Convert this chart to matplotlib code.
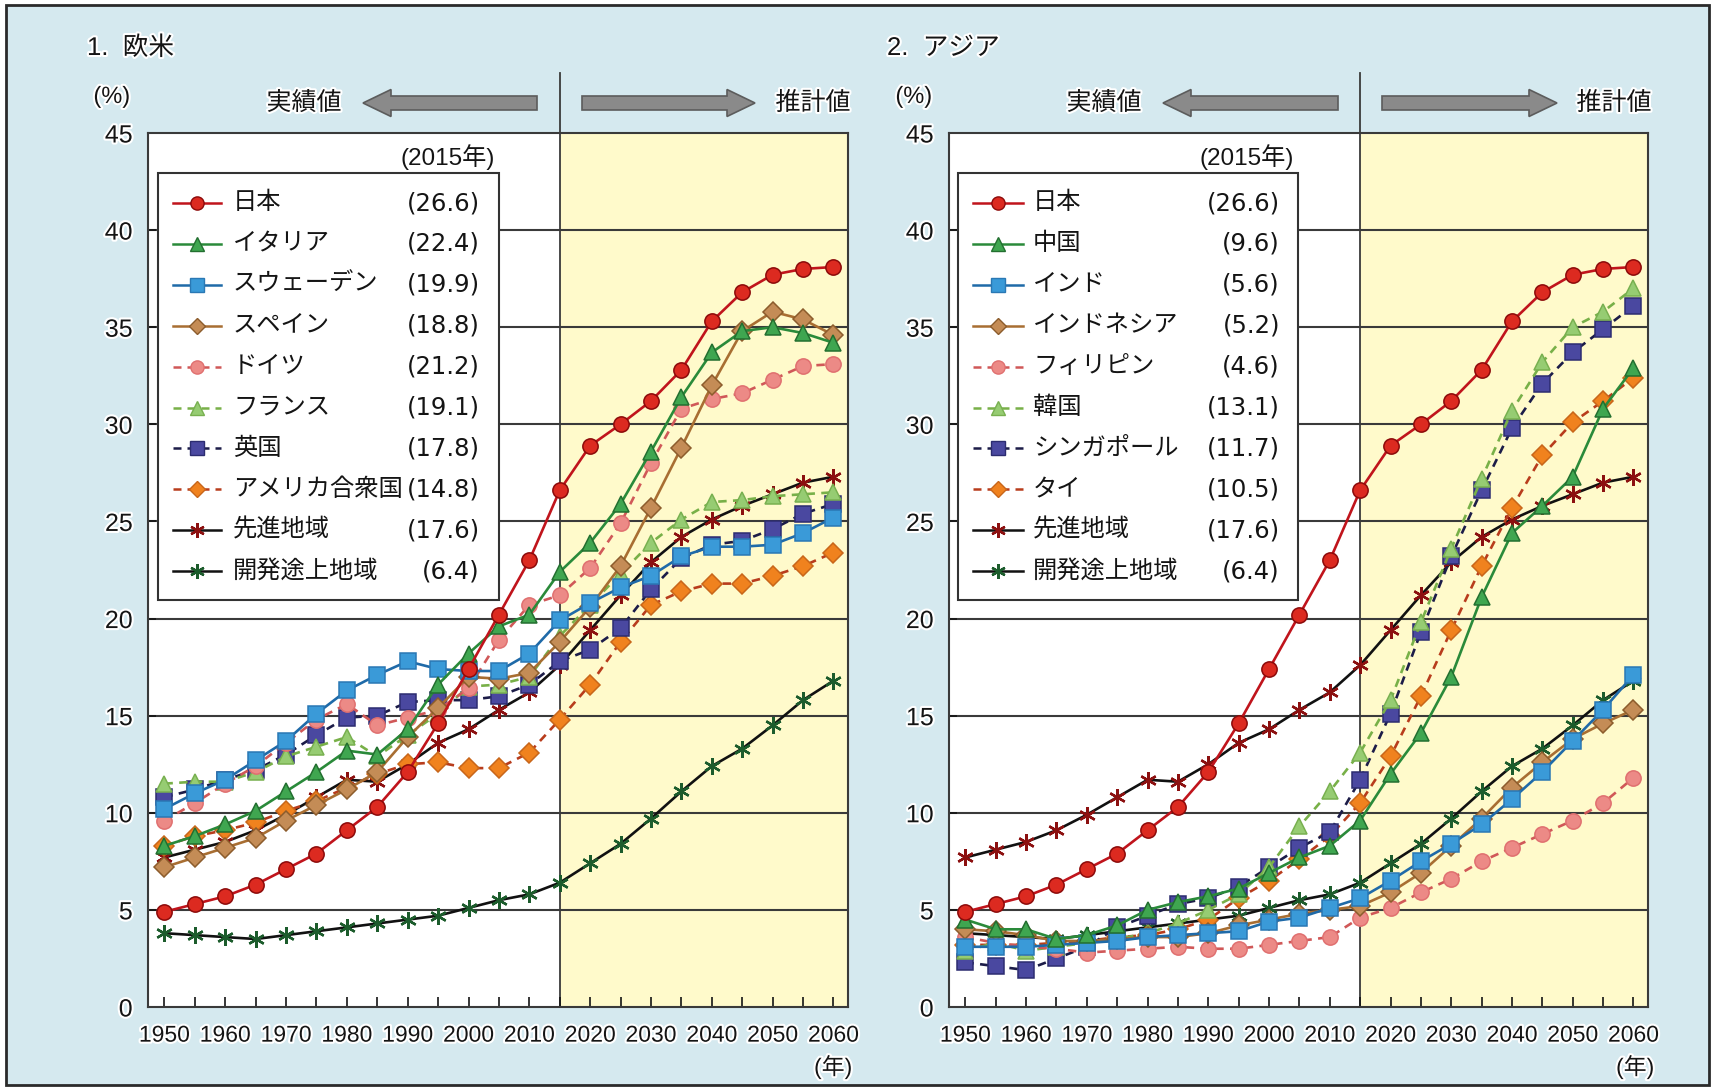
import matplotlib
matplotlib.use('Agg')
import matplotlib.pyplot as plt
from matplotlib.lines import Line2D
from matplotlib.patches import Rectangle, Polygon
import matplotlib.patheffects as pe

plt.rcParams['font.family'] = ['Liberation Sans', 'Noto Sans CJK JP']

W, H = 1711, 1088

years = [1950, 1955, 1960, 1965, 1970, 1975, 1980, 1985, 1990, 1995, 2000, 2005,
         2010, 2015, 2020, 2025, 2030, 2035, 2040, 2045, 2050, 2055, 2060]
xtick_years = [1950, 1960, 1970, 1980, 1990, 2000, 2010, 2020, 2030, 2040, 2050, 2060]
ytick_vals = [0, 5, 10, 15, 20, 25, 30, 35, 40, 45]

# shared series
japan = [4.9, 5.3, 5.7, 6.3, 7.1, 7.9, 9.1, 10.3, 12.1, 14.6, 17.4, 20.2,
         23.0, 26.6, 28.9, 30.0, 31.2, 32.8, 35.3, 36.8, 37.7, 38.0, 38.1]
developed = [7.7, 8.1, 8.5, 9.1, 9.9, 10.8, 11.7, 11.6, 12.5, 13.6, 14.3, 15.3,
             16.2, 17.6, 19.4, 21.2, 22.9, 24.2, 25.1, 25.8, 26.4, 27.0, 27.3]
developing = [3.8, 3.7, 3.6, 3.5, 3.7, 3.9, 4.1, 4.3, 4.5, 4.7, 5.1, 5.5,
              5.8, 6.4, 7.4, 8.4, 9.7, 11.1, 12.4, 13.3, 14.5, 15.8, 16.8]

# 1. Europe / America
italy = [8.3, 8.8, 9.4, 10.1, 11.1, 12.1, 13.2, 13.0, 14.3, 16.6, 18.2, 19.6,
         20.2, 22.4, 23.9, 25.9, 28.6, 31.4, 33.7, 34.8, 35.0, 34.7, 34.2]
sweden = [10.2, 11.0, 11.7, 12.7, 13.7, 15.1, 16.3, 17.1, 17.8, 17.4, 17.3, 17.3,
          18.2, 19.9, 20.8, 21.6, 22.2, 23.2, 23.7, 23.7, 23.8, 24.4, 25.2]
spain = [7.2, 7.7, 8.2, 8.7, 9.6, 10.4, 11.2, 12.1, 13.9, 15.4, 17.0, 16.9,
         17.2, 18.8, 20.6, 22.7, 25.7, 28.8, 32.0, 34.8, 35.8, 35.4, 34.6]
germany = [9.6, 10.5, 11.5, 12.4, 13.6, 14.8, 15.6, 14.5, 14.9, 15.3, 16.4, 18.9,
           20.7, 21.2, 22.6, 24.9, 28.0, 30.8, 31.3, 31.6, 32.3, 33.0, 33.1]
france = [11.5, 11.6, 11.6, 12.1, 12.9, 13.4, 13.9, 12.9, 14.0, 15.1, 16.5, 16.6,
          17.0, 19.1, 20.7, 22.3, 23.9, 25.1, 26.0, 26.1, 26.3, 26.4, 26.5]
uk = [10.8, 11.2, 11.7, 12.2, 13.0, 14.0, 14.9, 15.0, 15.7, 15.8, 15.8, 16.0,
      16.6, 17.8, 18.4, 19.5, 21.5, 23.1, 23.8, 24.0, 24.6, 25.4, 25.9]
usa = [8.3, 8.8, 9.1, 9.5, 10.1, 10.6, 11.3, 12.0, 12.5, 12.6, 12.3, 12.3,
       13.1, 14.8, 16.6, 18.8, 20.7, 21.4, 21.8, 21.8, 22.2, 22.7, 23.4]

# 2. Asia
china = [4.5, 4.0, 4.0, 3.5, 3.7, 4.2, 5.0, 5.4, 5.7, 6.1, 6.9, 7.7,
         8.3, 9.6, 12.0, 14.1, 17.0, 21.1, 24.4, 25.8, 27.3, 30.8, 32.9]
india = [3.1, 3.1, 3.1, 3.2, 3.3, 3.4, 3.6, 3.7, 3.8, 3.9, 4.4, 4.6,
         5.1, 5.6, 6.5, 7.5, 8.4, 9.4, 10.7, 12.1, 13.7, 15.3, 17.1]
indonesia = [4.0, 3.9, 3.7, 3.4, 3.4, 3.5, 3.6, 3.6, 3.8, 4.2, 4.5, 4.8,
             5.0, 5.2, 5.9, 6.9, 8.3, 9.7, 11.3, 12.6, 13.8, 14.6, 15.3]
philippines = [3.6, 3.3, 3.1, 3.0, 2.8, 2.9, 3.0, 3.1, 3.0, 3.0, 3.2, 3.4,
               3.6, 4.6, 5.1, 5.9, 6.6, 7.5, 8.2, 8.9, 9.6, 10.5, 11.8]
korea = [2.9, 3.3, 2.9, 3.1, 3.3, 3.5, 3.8, 4.3, 5.0, 5.8, 7.2, 9.3,
         11.1, 13.1, 15.8, 19.8, 23.6, 27.2, 30.7, 33.2, 35.0, 35.8, 37.0]
singapore = [2.3, 2.1, 1.9, 2.5, 3.1, 4.1, 4.7, 5.3, 5.6, 6.2, 7.2, 8.2,
             9.0, 11.7, 15.1, 19.3, 23.2, 26.6, 29.8, 32.1, 33.7, 34.9, 36.1]
thailand = [3.2, 3.2, 3.2, 3.3, 3.4, 3.6, 3.7, 4.0, 4.5, 5.6, 6.5, 7.6,
            8.8, 10.5, 12.9, 16.0, 19.4, 22.7, 25.7, 28.4, 30.1, 31.2, 32.4]

names_west = ['日本', 'イタリア', 'スウェーデン', 'スペイン', 'ドイツ', 'フランス',
              '英国', 'アメリカ合衆国', '先進地域', '開発途上地域']
vals_west = ['(26.6)', '(22.4)', '(19.9)', '(18.8)', '(21.2)', '(19.1)',
             '(17.8)', '(14.8)', '(17.6)', '(6.4)']
names_asia = ['日本', '中国', 'インド', 'インドネシア', 'フィリピン', '韓国',
              'シンガポール', 'タイ', '先進地域', '開発途上地域']
vals_asia = ['(26.6)', '(9.6)', '(5.6)', '(5.2)', '(4.6)', '(13.1)',
             '(11.7)', '(10.5)', '(17.6)', '(6.4)']

DASH = (0, (3.2, 2.4))
STYLES = [
    dict(color='#c0141c', ls='-', marker='o', mfc='#dc2a20', mec='#8c0a0a', ms=11),
    dict(color='#2a8a3a', ls='-', marker='^', mfc='#3fa650', mec='#236f30', ms=12),
    dict(color='#1f6aa8', ls='-', marker='s', mfc='#3a9ad8', mec='#2a78b4', ms=11),
    dict(color='#a86e32', ls='-', marker='D', mfc='#c48c56', mec='#8c5c2c', ms=10),
    dict(color='#d05858', ls=DASH, marker='o', mfc='#ec8a86', mec='#e07070', ms=11),
    dict(color='#78b048', ls=DASH, marker='^', mfc='#96cc72', mec='#78b050', ms=12),
    dict(color='#1c1c48', ls=DASH, marker='s', mfc='#4a48a0', mec='#2c2c70', ms=11),
    dict(color='#b83c1c', ls=DASH, marker='D', mfc='#f0821e', mec='#c8661a', ms=10),
    dict(color='#111111', ls='-', marker=(6, 2, 0), mfc='none', mec='#8c1010', ms=12, mew=1.7),
    dict(color='#111111', ls='-', marker=(6, 2, 0), mfc='none', mec='#1c5c2c', ms=12, mew=1.7),
]

BG = '#d5e9ef'
YELLOW = '#fffacb'
GRID = '#3a3a3a'
TXT = '#141414'
HALO = [pe.withStroke(linewidth=3, foreground='white')]


def fx(x):
    return x / W


def fy(y):
    return 1 - y / H


def arrow(fig, x_tip, x_tail, y):
    d = 1 if x_tail > x_tip else -1
    hl, hh, sh = 28, 13.5, 7
    pts = [(x_tip, y), (x_tip + d * hl, y - hh), (x_tip + d * hl, y - sh),
           (x_tail, y - sh), (x_tail, y + sh), (x_tip + d * hl, y + sh),
           (x_tip + d * hl, y + hh)]
    fig.add_artist(Polygon([(fx(a), fy(b)) for a, b in pts], closed=True,
                           transform=fig.transFigure, facecolor='#8a8a8a',
                           edgecolor='#5c5c5c', lw=1.2))


def legend(fig, names, vals, box, xline, xtext, xval):
    x0, y0, x1, y1 = box
    fig.add_artist(Rectangle((fx(x0), fy(y1)), fx(x1) - fx(x0), fy(y0) - fy(y1),
                             transform=fig.transFigure, facecolor='white',
                             edgecolor='#333333', lw=1.5, zorder=5))
    for i, (nm, v) in enumerate(zip(names, vals)):
        st = STYLES[i]
        y = 203 + i * 40.9
        fig.add_artist(Line2D([fx(xline[0]), fx(xline[1])], [fy(y), fy(y)],
                              transform=fig.transFigure, color=st['color'],
                              ls=st['ls'], lw=1.8, zorder=6))
        fig.add_artist(Line2D([fx((xline[0] + xline[1]) / 2)], [fy(y)],
                              transform=fig.transFigure, color=st['color'],
                              ls='none', marker=st['marker'], mfc=st['mfc'],
                              mec=st['mec'], ms=st['ms'] - 1.5,
                              mew=st.get('mew', 1.0), zorder=7))
        fig.text(fx(xtext), fy(y), nm, fontsize=17.5, color=TXT,
                 ha='left', va='center', zorder=7)
        fig.text(fx(xval), fy(y), v, fontsize=17.5, color=TXT,
                 family=['DejaVu Sans'], ha='right', va='center', zorder=7)


def panel(fig, rect, series, title, tx, names, vals, box, xline, xtext, xval,
          yr_x, heads):
    ax = fig.add_axes(rect)
    ax.set_facecolor('white')
    ax.set_xlim(1947.3, 2062.4)
    ax.set_ylim(0, 45)
    ax.axvspan(2015, 2062.4, color=YELLOW, zorder=0.2, lw=0)
    for v in ytick_vals[1:-1]:
        ax.axhline(v, color=GRID, lw=1.5, zorder=0.5)
    ax.axvline(2015, ymin=0, ymax=48.1 / 45, color=GRID, lw=1.3,
               clip_on=False, zorder=0.6)
    for s, st in reversed(list(zip(series, STYLES))):
        ax.plot(years, s, color=st['color'], ls=st['ls'], lw=1.9,
                marker=st['marker'], mfc=st['mfc'], mec=st['mec'],
                ms=st['ms'], mew=st.get('mew', 1.1), zorder=3)
    for sp in ax.spines.values():
        sp.set_color('#3a3a3a')
        sp.set_linewidth(1.5)
    ax.set_xticks(xtick_years)
    ax.set_xticks(years, minor=True)
    ax.set_yticks(ytick_vals)
    ax.tick_params(axis='x', which='both', direction='in', length=7, width=1.2,
                   labelsize=16.5, pad=12, colors=TXT)
    ax.tick_params(axis='y', direction='in', length=6, width=1.2,
                   labelsize=18, pad=11, colors=TXT)
    for lab in ax.get_xticklabels() + ax.get_yticklabels():
        lab.set_path_effects(HALO)

    fig.text(fx(tx), fy(48), title, fontsize=18.5, color=TXT, ha='left',
             va='center', path_effects=HALO)
    fig.text(fx(heads[0]), fy(97), '(%)', fontsize=17, color=TXT, ha='center',
             va='center', path_effects=HALO)
    fig.text(fx(heads[1]), fy(103), '実績値', fontsize=18, color=TXT,
             ha='center', va='center', path_effects=HALO)
    fig.text(fx(heads[2]), fy(103), '推計値', fontsize=18, color=TXT,
             ha='center', va='center', path_effects=HALO)
    arrow(fig, heads[3], heads[4], 103)
    arrow(fig, heads[6], heads[5], 103)
    fig.text(fx(box[2] - 4), fy(157), '(2015年)', fontsize=17.5, color=TXT,
             ha='right', va='center')
    fig.text(fx(yr_x), fy(1067), '(年)', fontsize=16.5, color=TXT, ha='center',
             va='center', path_effects=HALO)
    legend(fig, names, vals, box, xline, xtext, xval)
    return ax


def main():
    fig = plt.figure(figsize=(W / 100, H / 100), dpi=100, facecolor='white')
    fig.add_artist(Rectangle((fx(6), fy(1085)), fx(1703), fy(5) - fy(1085),
                             transform=fig.transFigure, facecolor=BG,
                             edgecolor='#2a2a2a', lw=2, zorder=-1))
    west = [japan, italy, sweden, spain, germany, france, uk, usa,
            developed, developing]
    asia = [japan, china, india, indonesia, philippines, korea, singapore,
            thailand, developed, developing]
    panel(fig, [fx(148), fy(1007), 700 / W, 874 / H], west, '1.  欧米', 87,
          names_west, vals_west, (158, 173, 499, 600), (173, 221), 233, 480,
          833, (112, 304, 813, 363, 537, 582, 755))
    panel(fig, [fx(949), fy(1007), 699 / W, 874 / H], asia, '2.  アジア', 887,
          names_asia, vals_asia, (958, 173, 1298, 600), (973, 1023), 1033, 1280,
          1635, (914, 1104, 1614, 1163, 1338, 1382, 1557))
    fig.savefig('out.png', dpi=100, facecolor='white')


main()
